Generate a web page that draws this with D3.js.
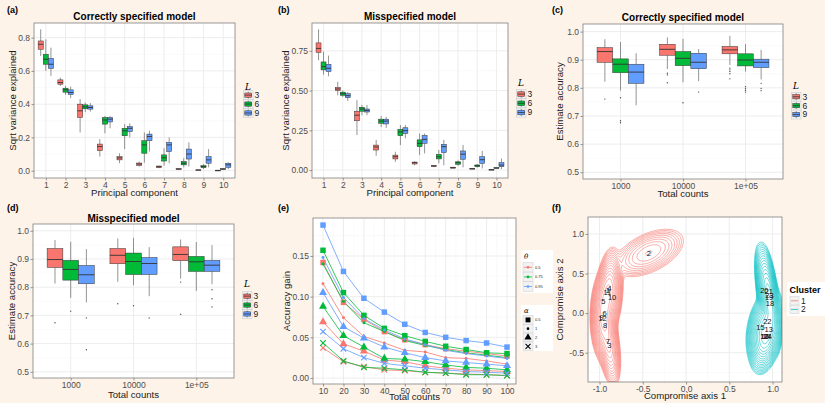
<!DOCTYPE html>
<html>
<head>
<meta charset="utf-8">
<script src="https://cdn.jsdelivr.net/npm/d3@7/dist/d3.min.js"></script>
<style>
  body { margin: 0; background: #fdf3e9; }
  svg { display: block; font-family: "Liberation Sans", Arial, sans-serif; }
</style>
</head>
<body>
<svg id="fig" width="825" height="403"></svg>
<script>
// ---- data ----
const components = [1, 2, 3, 4, 5, 6, 7, 8, 9, 10];
const groupsL = ['3', '6', '9'];
const totalCounts = ['1000', '10000', '1e+05'];

// boxplot stats: [lower whisker, Q1, median, Q3, upper whisker]
const pcaCorrect3 = [[0.69, 0.73, 0.76, 0.78, 0.85], [0.51, 0.52, 0.53, 0.546, 0.56], [0.23, 0.32, 0.36, 0.40, 0.43], [0.085, 0.12, 0.145, 0.16, 0.19], [0.045, 0.065, 0.077, 0.084, 0.105], [0.024, 0.032, 0.04, 0.046, 0.055], [0.015, 0.018, 0.024, 0.028, 0.03], [0.006, 0.008, 0.010, 0.012, 0.014], [0.002, 0.003, 0.004, 0.005, 0.006], [0.0, 0.001, 0.002, 0.002, 0.003]];
const pcaCorrect6 = [[0.60, 0.64, 0.67, 0.70, 0.79], [0.456, 0.472, 0.486, 0.496, 0.51], [0.352, 0.372, 0.384, 0.396, 0.41], [0.225, 0.28, 0.305, 0.32, 0.33], [0.13, 0.21, 0.24, 0.255, 0.28], [0.048, 0.105, 0.155, 0.18, 0.23], [0.03, 0.058, 0.078, 0.095, 0.135], [0.02, 0.035, 0.045, 0.055, 0.075], [0.01, 0.018, 0.025, 0.03, 0.04], [0.005, 0.008, 0.01, 0.012, 0.015]];
const pcaCorrect9 = [[0.57, 0.615, 0.64, 0.675, 0.74], [0.436, 0.458, 0.47, 0.486, 0.506], [0.355, 0.37, 0.38, 0.39, 0.406], [0.255, 0.293, 0.31, 0.32, 0.33], [0.20, 0.235, 0.255, 0.265, 0.285], [0.115, 0.18, 0.205, 0.22, 0.24], [0.045, 0.115, 0.155, 0.17, 0.20], [0.025, 0.07, 0.10, 0.13, 0.17], [0.02, 0.045, 0.065, 0.085, 0.13], [0.01, 0.02, 0.035, 0.045, 0.05]];

const pcaMiss3 = [[0.69, 0.74, 0.765, 0.80, 0.885], [0.47, 0.50, 0.51, 0.52, 0.555], [0.22, 0.31, 0.345, 0.37, 0.44], [0.09, 0.126, 0.145, 0.157, 0.19], [0.052, 0.07, 0.084, 0.094, 0.115], [0.03, 0.038, 0.047, 0.05, 0.055], [0.018, 0.022, 0.026, 0.028, 0.032], [0.01, 0.012, 0.015, 0.018, 0.02], [0.005, 0.006, 0.008, 0.01, 0.012], [0.001, 0.002, 0.002, 0.003, 0.004]];
const pcaMiss6 = [[0.60, 0.63, 0.65, 0.68, 0.745], [0.46, 0.47, 0.48, 0.49, 0.50], [0.345, 0.37, 0.384, 0.395, 0.41], [0.27, 0.294, 0.308, 0.32, 0.34], [0.157, 0.216, 0.24, 0.256, 0.283], [0.095, 0.147, 0.168, 0.19, 0.23], [0.042, 0.07, 0.084, 0.099, 0.126], [0.027, 0.036, 0.046, 0.052, 0.06], [0.015, 0.021, 0.027, 0.032, 0.038], [0.009, 0.011, 0.013, 0.015, 0.017]];
const pcaMiss9 = [[0.59, 0.62, 0.64, 0.665, 0.72], [0.436, 0.455, 0.468, 0.48, 0.49], [0.345, 0.365, 0.375, 0.384, 0.41], [0.265, 0.29, 0.308, 0.32, 0.335], [0.2, 0.23, 0.248, 0.266, 0.283], [0.105, 0.168, 0.193, 0.218, 0.23], [0.03, 0.11, 0.147, 0.162, 0.19], [0.017, 0.068, 0.1, 0.12, 0.158], [0.01, 0.042, 0.065, 0.084, 0.12], [0.006, 0.021, 0.031, 0.046, 0.073]];

const accCorrect3 = [[0.822, 0.891, 0.929, 0.943, 0.973], [0.867, 0.916, 0.937, 0.955, 0.979], [0.881, 0.921, 0.935, 0.947, 0.985]];
const accCorrect6 = [[0.79, 0.854, 0.884, 0.903, 0.963], [0.82, 0.879, 0.905, 0.929, 0.974], [0.858, 0.878, 0.899, 0.921, 0.955]];
const accCorrect9 = [[0.738, 0.816, 0.856, 0.884, 0.923], [0.824, 0.868, 0.891, 0.923, 0.938], [0.83, 0.872, 0.891, 0.902, 0.935]];
const accCorrect3Out = [[0.76], [0.852, 0.846, 0.818], [0.87, 0.864, 0.858, 0.85, 0.832]];
const accCorrect6Out = [[0.765, 0.683, 0.676], [0.747], [0.804, 0.797, 0.791, 0.785]];
const accCorrect9Out = [[], [0.785], [0.816, 0.798, 0.79]];

const accMiss3 = [[0.813, 0.87, 0.898, 0.937, 0.967], [0.819, 0.883, 0.913, 0.937, 0.973], [0.83, 0.894, 0.916, 0.943, 0.969]];
const accMiss6 = [[0.762, 0.825, 0.863, 0.895, 0.961], [0.807, 0.845, 0.891, 0.921, 0.975], [0.787, 0.856, 0.89, 0.909, 0.96]];
const accMiss9 = [[0.746, 0.812, 0.844, 0.877, 0.935], [0.768, 0.845, 0.884, 0.905, 0.942], [0.81, 0.856, 0.878, 0.895, 0.949]];
const accMiss3Out = [[0.674], [0.741], [0.818, 0.704]];
const accMiss6Out = [[0.715], [0.734], []];
const accMiss9Out = [[0.691, 0.578], [0.691], [0.791, 0.759, 0.73]];

// accuracy gain, theta x alpha
const countsE = [10, 20, 30, 40, 50, 60, 70, 80, 90, 100];
const thetaLevels = ['0.5', '0.75', '0.95'];
const alphaLevels = ['0.5', '1', '2', '3'];
const gainT05A05 = [0.142, 0.093, 0.072, 0.057, 0.047, 0.041, 0.036, 0.033, 0.030, 0.027];
const gainT05A1 = [0.116, 0.074, 0.051, 0.043, 0.034, 0.032, 0.025, 0.024, 0.021, 0.017];
const gainT05A2 = [0.069, 0.042, 0.033, 0.022, 0.020, 0.015, 0.012, 0.010, 0.009, 0.008];
const gainT05A3 = [0.037, 0.020, 0.014, 0.010, 0.009, 0.007, 0.006, 0.005, 0.004, 0.003];
const gainT075A05 = [0.157, 0.105, 0.077, 0.061, 0.052, 0.045, 0.039, 0.035, 0.031, 0.030];
const gainT075A1 = [0.140, 0.094, 0.068, 0.057, 0.046, 0.040, 0.035, 0.031, 0.028, 0.025];
const gainT075A2 = [0.088, 0.052, 0.038, 0.024, 0.023, 0.020, 0.016, 0.013, 0.012, 0.010];
const gainT075A3 = [0.043, 0.021, 0.013, 0.012, 0.010, 0.007, 0.006, 0.004, 0.004, 0.003];
const gainT095A05 = [0.188, 0.131, 0.098, 0.081, 0.066, 0.056, 0.050, 0.046, 0.043, 0.038];
const gainT095A1 = [0.148, 0.099, 0.073, 0.059, 0.048, 0.041, 0.034, 0.030, 0.027, 0.024];
const gainT095A2 = [0.105, 0.063, 0.049, 0.038, 0.031, 0.025, 0.021, 0.019, 0.017, 0.015];
const gainT095A3 = [0.057, 0.036, 0.025, 0.018, 0.015, 0.012, 0.010, 0.008, 0.007, 0.006];

// compromise coordinates: [id, axis1, axis2, bootstrap sd1, sd2, corr]
const cluster1 = [
  ['4', -0.885, 0.31, 0.045, 0.17, 0.3], ['1', -0.905, 0.29, 0.045, 0.17, 0.3],
  ['11', -0.91, 0.26, 0.045, 0.17, 0.3], ['10', -0.855, 0.20, 0.045, 0.17, 0.3],
  ['5', -0.955, 0.145, 0.045, 0.17, 0.3], ['6', -0.94, 0.0, 0.045, 0.17, 0],
  ['9', -0.975, -0.05, 0.045, 0.17, 0], ['12', -0.965, -0.07, 0.045, 0.17, 0],
  ['8', -0.935, -0.15, 0.045, 0.17, 0], ['7', -0.905, -0.36, 0.045, 0.18, -0.4],
  ['3', -0.885, -0.41, 0.045, 0.18, -0.4], ['2', -0.43, 0.76, 0.16, 0.12, 0.5]
];
const cluster2 = [
  ['20', 0.905, 0.29, 0.04, 0.2, -0.55], ['21', 0.955, 0.27, 0.04, 0.2, -0.55],
  ['23', 0.965, 0.22, 0.04, 0.2, -0.55], ['19', 0.96, 0.20, 0.04, 0.2, -0.55],
  ['18', 0.97, 0.12, 0.04, 0.2, -0.55], ['22', 0.94, -0.10, 0.06, 0.15, 0.35],
  ['15', 0.86, -0.18, 0.06, 0.15, 0.35], ['13', 0.955, -0.21, 0.06, 0.15, 0.35],
  ['16', 0.91, -0.29, 0.06, 0.15, 0.35], ['14', 0.93, -0.30, 0.06, 0.15, 0.35],
  ['17', 0.905, -0.30, 0.06, 0.15, 0.35], ['24', 0.945, -0.29, 0.06, 0.15, 0.35]
];

// ---- drawing ----
const svg = d3.select('#fig');
const hue3 = ['#F8766D', '#00BA38', '#619CFF'];
const hue2 = ['#F8766D', '#00BFC4'];

function txt(x, y, s, o = {}) {
    const t = svg.append('text').attr('x', x).attr('y', y).text(s)
        .attr('font-size', o.size || 9.6)
        .attr('fill', o.fill || '#000')
        .attr('text-anchor', o.anchor || 'start');
    if (o.bold) t.attr('font-weight', 'bold');
    if (o.italic) t.attr('font-style', 'italic');
    if (o.family) t.attr('font-family', o.family);
    if (o.rotate) t.attr('transform', `rotate(-90,${x},${y})`);
    return t;
}

function panel(b, x, y, o) {
    const g = svg.append('g');
    g.append('rect').attr('x', b.l).attr('y', b.t)
        .attr('width', b.r - b.l).attr('height', b.b - b.t).attr('fill', '#fff');
    const hline = (v, c, w) => g.append('line').attr('x1', b.l).attr('x2', b.r)
        .attr('y1', y(v)).attr('y2', y(v)).attr('stroke', c).attr('stroke-width', w);
    const vline = (v, c, w) => g.append('line').attr('y1', b.t).attr('y2', b.b)
        .attr('x1', x(v)).attr('x2', x(v)).attr('stroke', c).attr('stroke-width', w);
    (o.yMinor || []).forEach(v => hline(v, '#f4f4f4', 0.5));
    (o.xMinor || []).forEach(v => vline(v, '#f4f4f4', 0.5));
    o.yTicks.forEach(v => hline(v, '#ebebeb', 0.9));
    o.xTicks.forEach(v => vline(v, '#ebebeb', 0.9));

    const ax = g.append('g').attr('transform', `translate(0,${b.b})`)
        .call(d3.axisBottom(x).tickValues(o.xTicks).tickFormat(o.xFmt || (d => d)).tickSize(2.5).tickPadding(1.2));
    const ay = g.append('g').attr('transform', `translate(${b.l},0)`)
        .call(d3.axisLeft(y).tickValues(o.yTicks).tickFormat(o.yFmt).tickSize(2.5).tickPadding(1.5));
    [ax, ay].forEach(a => {
        a.attr('font-family', null).attr('font-size', 8.5);
        a.select('.domain').remove();
        a.selectAll('line').attr('stroke', '#333').attr('stroke-width', 0.5);
        a.selectAll('text').attr('fill', '#4d4d4d');
    });

    const marks = g.append('g');
    const cx = (b.l + b.r) / 2, cy = (b.t + b.b) / 2;
    if (o.title) txt(cx, o.titleY, o.title, { size: 10, bold: true, anchor: 'middle' });
    txt(o.tagX, o.tagY, o.tag, { size: 9, bold: true });
    txt(cx, o.xTitleY, o.xTitle, { anchor: 'middle', fill: '#222' });
    txt(o.yTitleX, cy, o.yTitle, { anchor: 'middle', rotate: true, fill: '#222' });
    return {
        marks,
        finish() {
            g.append('rect').attr('x', b.l).attr('y', b.t)
                .attr('width', b.r - b.l).attr('height', b.b - b.t)
                .attr('fill', 'none').attr('stroke', '#7f7f7f').attr('stroke-width', 0.8);
        }
    };
}

function boxplots(p, x, y, cats, series, outliers, dodge) {
    const w = x.step() * dodge / 3;
    series.forEach((ser, si) => {
        ser.forEach((s, ci) => {
            const cx = x(cats[ci]) + (si - 1) * w;
            const [lw, q1, md, q3, uw] = s;
            const g = p.marks.append('g');
            g.append('line').attr('x1', cx).attr('x2', cx).attr('y1', y(uw)).attr('y2', y(q3))
                .attr('stroke', '#4d4d4d').attr('stroke-width', 0.6);
            g.append('line').attr('x1', cx).attr('x2', cx).attr('y1', y(q1)).attr('y2', y(lw))
                .attr('stroke', '#4d4d4d').attr('stroke-width', 0.6);
            g.append('rect').attr('x', cx - w / 2).attr('y', y(q3))
                .attr('width', w).attr('height', Math.max(0.6, y(q1) - y(q3)))
                .attr('fill', hue3[si]).attr('stroke', '#333').attr('stroke-width', 0.5);
            g.append('line').attr('x1', cx - w / 2).attr('x2', cx + w / 2).attr('y1', y(md)).attr('y2', y(md))
                .attr('stroke', '#333').attr('stroke-width', 0.9);
            if (outliers) {
                g.selectAll('circle').data(outliers[si][ci]).join('circle')
                    .attr('cx', cx).attr('cy', d => y(d)).attr('r', 0.7).attr('fill', '#4d4d4d');
            }
        });
    });
}

function boxLegend(x0, titleY, keyTop, keyH) {
    txt(x0 + 1.5, titleY, 'L', { size: 9, italic: true, family: '"DejaVu Serif", serif' });
    groupsL.forEach((l, i) => {
        const ky = keyTop + i * keyH;
        svg.append('rect').attr('x', x0).attr('y', ky).attr('width', 9.5).attr('height', keyH)
            .attr('fill', '#f2f2f2').attr('stroke', '#cccccc').attr('stroke-width', 0.6);
        svg.append('line').attr('x1', x0 + 4.75).attr('x2', x0 + 4.75).attr('y1', ky + 1).attr('y2', ky + keyH - 1)
            .attr('stroke', '#4d4d4d').attr('stroke-width', 0.6);
        svg.append('rect').attr('x', x0 + 1.3).attr('y', ky + 2.3).attr('width', 6.9).attr('height', keyH - 4.6)
            .attr('fill', hue3[i]).attr('stroke', '#333').attr('stroke-width', 0.5);
        svg.append('line').attr('x1', x0 + 1.3).attr('x2', x0 + 8.2).attr('y1', ky + keyH / 2).attr('y2', ky + keyH / 2)
            .attr('stroke', '#333').attr('stroke-width', 0.8);
        txt(x0 + 11, ky + keyH / 2 + 2.9, l, { size: 8.5, fill: '#1a1a1a' });
    });
}

// (a)
const bA = { l: 34, r: 235, t: 23, b: 178 };
const xA = d3.scalePoint().domain(components).range([bA.l, bA.r]).padding(0.6);
const yA = d3.scaleLinear().domain([-0.044, 0.888]).range([bA.b, bA.t]);
const pA = panel(bA, xA, yA, {
    xTicks: components, yTicks: [0, 0.2, 0.4, 0.6, 0.8], yMinor: [0.1, 0.3, 0.5, 0.7],
    yFmt: d3.format('.1f'), title: 'Correctly specified model', titleY: 20,
    tag: '(a)', tagX: 7, tagY: 13, xTitle: 'Principal component', xTitleY: 195.5,
    yTitle: 'Sqrt variance explained', yTitleX: 16
});
boxplots(pA, xA, yA, components, [pcaCorrect3, pcaCorrect6, pcaCorrect9], null, 0.78);
pA.finish();
boxLegend(243.5, 90, 90.7, 8.9);

// (b)
const bB = { l: 312, r: 508, t: 23, b: 178 };
const xB = d3.scalePoint().domain(components).range([bB.l, bB.r]).padding(0.6);
const yB = d3.scaleLinear().domain([-0.05, 0.925]).range([bB.b, bB.t]);
const pB = panel(bB, xB, yB, {
    xTicks: components, yTicks: [0, 0.25, 0.5, 0.75], yMinor: [0.125, 0.375, 0.625, 0.875],
    yFmt: d3.format('.2f'), title: 'Misspecified model', titleY: 20,
    tag: '(b)', tagX: 278, tagY: 13, xTitle: 'Principal component', xTitleY: 195.5,
    yTitle: 'Sqrt variance explained', yTitleX: 289
});
boxplots(pB, xB, yB, components, [pcaMiss3, pcaMiss6, pcaMiss9], null, 0.78);
pB.finish();
boxLegend(516.5, 86, 89.5, 9.2);

// (c)
const bC = { l: 583, r: 783, t: 24, b: 179 };
const xC = d3.scalePoint().domain(totalCounts).range([bC.l, bC.r]).padding(0.6);
const yC = d3.scaleLinear().domain([0.476, 1.027]).range([bC.b, bC.t]);
const accTicks = [0.5, 0.6, 0.7, 0.8, 0.9, 1.0];
const accMinor = [0.55, 0.65, 0.75, 0.85, 0.95];
const pC = panel(bC, xC, yC, {
    xTicks: totalCounts, yTicks: accTicks, yMinor: accMinor,
    yFmt: d3.format('.1f'), title: 'Correctly specified model', titleY: 21,
    tag: '(c)', tagX: 552, tagY: 13, xTitle: 'Total counts', xTitleY: 197,
    yTitle: 'Estimate accuracy', yTitleX: 563
});
boxplots(pC, xC, yC, totalCounts, [accCorrect3, accCorrect6, accCorrect9],
    [accCorrect3Out, accCorrect6Out, accCorrect9Out], 0.75);
pC.finish();
boxLegend(791.5, 89, 92.3, 8.9);

// (d)
const bD = { l: 33, r: 234, t: 224, b: 378 };
const xD = d3.scalePoint().domain(totalCounts).range([bD.l, bD.r]).padding(0.6);
const yD = d3.scaleLinear().domain([0.478, 1.024]).range([bD.b, bD.t]);
const pD = panel(bD, xD, yD, {
    xTicks: totalCounts, yTicks: accTicks, yMinor: accMinor,
    yFmt: d3.format('.1f'), title: 'Misspecified model', titleY: 222,
    tag: '(d)', tagX: 7, tagY: 211, xTitle: 'Total counts', xTitleY: 398,
    yTitle: 'Estimate accuracy', yTitleX: 15
});
boxplots(pD, xD, yD, totalCounts, [accMiss3, accMiss6, accMiss9],
    [accMiss3Out, accMiss6Out, accMiss9Out], 0.75);
pD.finish();
boxLegend(242.5, 287, 291.7, 8.9);

// (e)
const bE = { l: 313, r: 516, t: 218, b: 384 };
const xE = d3.scaleLinear().domain([5.1, 104.4]).range([bE.l, bE.r]);
const yE = d3.scaleLinear().domain([-0.0074, 0.1967]).range([bE.b, bE.t]);
const pE = panel(bE, xE, yE, {
    xTicks: countsE, xMinor: [15, 25, 35, 45, 55, 65, 75, 85, 95],
    yTicks: [0, 0.05, 0.1, 0.15], yMinor: [0.025, 0.075, 0.125, 0.175],
    yFmt: d3.format('.2f'), tag: '(e)', tagX: 278, tagY: 211,
    xTitle: 'Total counts', xTitleY: 400, yTitle: 'Accuracy gain', yTitleX: 290
});
const gainSeries = [
    [0, 0, gainT05A05], [0, 1, gainT05A1], [0, 2, gainT05A2], [0, 3, gainT05A3],
    [1, 0, gainT075A05], [1, 1, gainT075A1], [1, 2, gainT075A2], [1, 3, gainT075A3],
    [2, 0, gainT095A05], [2, 1, gainT095A1], [2, 2, gainT095A2], [2, 3, gainT095A3]
];
const shapes = [d3.symbolSquare, d3.symbolCircle, d3.symbolTriangle, d3.symbolTimes];
const shapeSize = [30, 7, 28, 22];
function drawShape(g, a, px, py, color, scale = 1) {
    const path = g.append('path').attr('transform', `translate(${px},${py})`)
        .attr('d', d3.symbol(shapes[a], shapeSize[a] * scale)());
    if (a === 3) path.attr('fill', 'none').attr('stroke', color).attr('stroke-width', 1.1);
    else path.attr('fill', color);
}
const lineE = d3.line().x((d, i) => xE(countsE[i])).y(d => yE(d));
gainSeries.forEach(([t, a, vals]) => {
    pE.marks.append('path').attr('d', lineE(vals)).attr('fill', 'none')
        .attr('stroke', hue3[t]).attr('stroke-width', 0.8);
});
gainSeries.forEach(([t, a, vals]) => {
    vals.forEach((v, i) => drawShape(pE.marks, a, xE(countsE[i]), yE(v), hue3[t]));
});
pE.finish();

// (e) legends
svg.append('rect').attr('x', 521).attr('y', 250).attr('width', 32).attr('height', 43).attr('fill', '#fff');
txt(524, 259, 'θ', { size: 7, italic: true, family: '"DejaVu Serif", serif' });
thetaLevels.forEach((l, i) => {
    const ky = 262.5 + i * 9.6;
    svg.append('rect').attr('x', 523).attr('y', ky).attr('width', 10).attr('height', 9.6)
        .attr('fill', '#f2f2f2').attr('stroke', '#cccccc').attr('stroke-width', 0.5);
    svg.append('line').attr('x1', 524).attr('x2', 532).attr('y1', ky + 4.8).attr('y2', ky + 4.8)
        .attr('stroke', hue3[i]).attr('stroke-width', 0.8);
    svg.append('circle').attr('cx', 528).attr('cy', ky + 4.8).attr('r', 1.3).attr('fill', hue3[i]);
    txt(535, ky + 6.2, l, { size: 4, fill: '#1a1a1a' });
});
svg.append('rect').attr('x', 521).attr('y', 305).attr('width', 32).attr('height', 46).attr('fill', '#fff');
txt(524, 313, 'α', { size: 7, italic: true, family: '"DejaVu Serif", serif' });
alphaLevels.forEach((l, i) => {
    const ky = 315.5 + i * 8.8;
    svg.append('rect').attr('x', 523).attr('y', ky).attr('width', 10).attr('height', 8.8)
        .attr('fill', '#f2f2f2').attr('stroke', '#cccccc').attr('stroke-width', 0.5);
    drawShape(svg, i, 528, ky + 4.4, '#000', 0.8);
    txt(535, ky + 5.8, l, { size: 4, fill: '#1a1a1a' });
});

// (f)
const bF = { l: 588, r: 782, t: 217, b: 382 };
const xF = d3.scaleLinear().domain([-1.133, 1.109]).range([bF.l, bF.r]);
const yF = d3.scaleLinear().domain([-0.87, 1.214]).range([bF.b, bF.t]);
const f1 = d => d.toFixed(1);
const pF = panel(bF, xF, yF, {
    xTicks: [-1, -0.5, 0, 0.5, 1], xMinor: [-0.75, -0.25, 0.25, 0.75],
    yTicks: [-0.5, 0, 0.5, 1], yMinor: [-0.75, -0.25, 0.25, 0.75],
    xFmt: f1, yFmt: f1, tag: '(f)', tagX: 552, tagY: 211,
    xTitle: 'Compromise axis 1', xTitleY: 399, yTitle: 'Compromise axis 2', yTitleX: 563
});
svg.append('clipPath').attr('id', 'clipF').append('rect')
    .attr('x', bF.l).attr('y', bF.t).attr('width', bF.r - bF.l).attr('height', bF.b - bF.t);
const contourG = pF.marks.append('g').attr('clip-path', 'url(#clipF)');
const levels = d3.range(1, 17).map(k => Math.pow(0.71, k));

function densityContours(members, color) {
    const nx = 200, ny = 180;
    const [x0, x1] = xF.domain(), [y0, y1] = yF.domain();
    const dx = (x1 - x0) / nx, dy = (y1 - y0) / ny;
    const vals = new Float64Array(nx * ny);
    for (let j = 0; j < ny; j++) {
        const gy = y0 + (j + 0.5) * dy;
        for (let i = 0; i < nx; i++) {
            const gx = x0 + (i + 0.5) * dx;
            let s = 0;
            members.forEach(([, mx, my, sx, sy, r]) => {
                const u = (gx - mx) / sx, v = (gy - my) / sy;
                const q = (u * u + v * v - 2 * r * u * v) / (1 - r * r);
                s += Math.exp(-q / 2) / (2 * Math.PI * sx * sy * Math.sqrt(1 - r * r));
            });
            vals[i + j * nx] = s;
        }
    }
    const max = d3.max(vals);
    const contours = d3.contours().size([nx, ny]).thresholds(levels.map(l => l * max))(vals);
    const proj = d3.geoTransform({
        point(px, py) { this.stream.point(xF(x0 + px * dx), yF(y0 + py * dy)); }
    });
    contourG.selectAll(null).data(contours).join('path')
        .attr('d', d3.geoPath(proj)).attr('fill', 'none')
        .attr('stroke', color).attr('stroke-width', 0.6);
}
densityContours(cluster1, hue2[0]);
densityContours(cluster2, hue2[1]);
[cluster1, cluster2].forEach(cl => {
    cl.forEach(([id, mx, my]) => {
        pF.marks.append('text').attr('x', xF(mx)).attr('y', yF(my)).attr('dy', '0.35em')
            .attr('text-anchor', 'middle').attr('font-size', 7.5).attr('fill', '#111').text(id);
    });
});
pF.finish();

// (f) legend
svg.append('rect').attr('x', 787).attr('y', 282).attr('width', 38).attr('height', 34).attr('fill', '#fff');
txt(789.5, 293, 'Cluster', { size: 9, bold: true });
['1', '2'].forEach((l, i) => {
    const ky = 296.5 + i * 8.6;
    svg.append('rect').attr('x', 790).attr('y', ky).attr('width', 9).attr('height', 8.6)
        .attr('fill', '#f2f2f2').attr('stroke', '#cccccc').attr('stroke-width', 0.5);
    svg.append('line').attr('x1', 791).attr('x2', 798).attr('y1', ky + 4.3).attr('y2', ky + 4.3)
        .attr('stroke', hue2[i]).attr('stroke-width', 0.8);
    txt(801, ky + 7.2, l, { size: 8.5, fill: '#1a1a1a' });
});
</script>
</body>
</html>
